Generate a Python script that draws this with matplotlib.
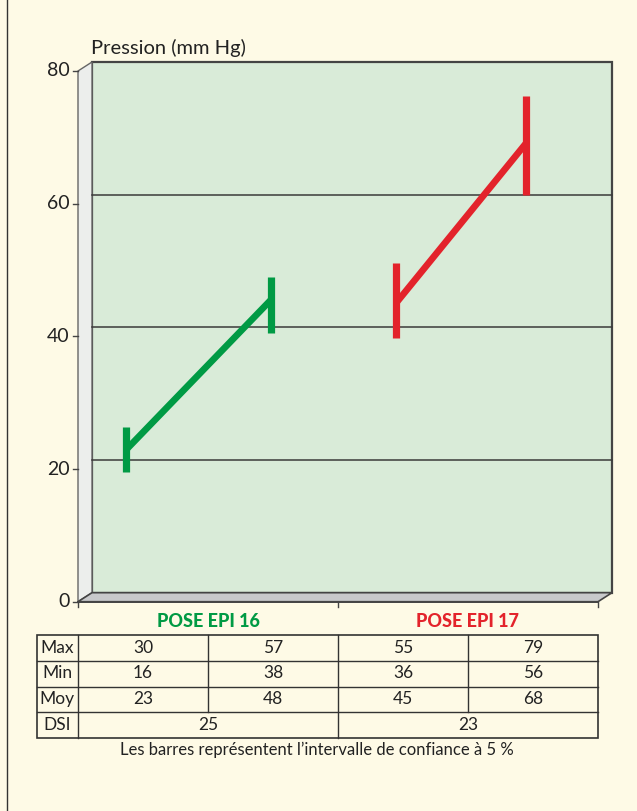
import matplotlib
matplotlib.use("Agg")
import matplotlib.pyplot as plt
from matplotlib.patches import Polygon, Rectangle
from matplotlib.lines import Line2D

plt.rcParams['font.family'] = ['Lato', 'DejaVu Sans']

# ---- data ----
categories = ["POSE EPI 16", "POSE EPI 17"]
green_mean = [22.9, 45.5]
green_low = [19.5, 40.5]
green_high = [26.3, 48.9]
red_mean = [45.0, 69.1]
red_low = [39.8, 61.3]
red_high = [51.1, 76.2]
y_ticks = [0, 20, 40, 60, 80]
row_labels = ["Max", "Min", "Moy", "DSI"]
max_vals = [30, 57, 55, 79]
min_vals = [16, 38, 36, 56]
moy_vals = [23, 48, 45, 68]
dsi_vals = [25, 23]

W, H = 637, 811
BG = "#FEFAE6"
WALL = "#D9EBD8"
SIDE = "#ECEEEC"
FLOOR = "#C8C9CB"
EDGE = "#444444"
GREEN = "#009A44"
RED = "#E3232B"
TXT = "#222222"

fig = plt.figure(figsize=(W / 100, H / 100), dpi=100)
fig.patch.set_facecolor(BG)

def fx(px):
    return px / W

def fy(py):
    return 1 - py / H

# page border on the left
fig.add_artist(Line2D([fx(7), fx(7)], [0, 1], color="#333333", lw=1.0))

# main (front-plane) axes
L, R, T, B = 78, 598, 71, 601.7
ax = fig.add_axes([fx(L), fy(B), fx(R - L), fy(T) - fy(B)])
ax.set_xlim(0, 2)
ax.set_ylim(0, 80)
ax.set_facecolor("none")
for s in ax.spines.values():
    s.set_visible(False)
ax.set_xticks([])
ax.set_yticks([])

# depth offset in data units
DXP, DYP = 14, 9
dx = DXP / (R - L) * 2
dy = DYP / (B - T) * 80

# back wall
ax.add_patch(Polygon([(dx, dy), (2 + dx, dy), (2 + dx, 80 + dy), (dx, 80 + dy)],
                     closed=True, facecolor=WALL, edgecolor=EDGE, lw=1.6,
                     clip_on=False, zorder=1))
for g in y_ticks[1:-1]:
    ax.add_line(Line2D([dx, 2 + dx], [g + dy, g + dy], color="#3a3a3a", lw=1.1,
                       clip_on=False, zorder=2))
# side wall
ax.add_patch(Polygon([(0, 0), (0, 80), (dx, 80 + dy), (dx, dy)], closed=True,
                     facecolor=SIDE, edgecolor="#666666", lw=1.0,
                     clip_on=False, zorder=1))
# floor
ax.add_patch(Polygon([(0, 0), (2, 0), (2 + dx, dy), (dx, dy)], closed=True,
                     facecolor=FLOOR, edgecolor=EDGE, lw=1.2,
                     clip_on=False, zorder=1))
ax.add_line(Line2D([0, 2], [0, 0], color=EDGE, lw=1.4, clip_on=False, zorder=3))

# y ticks and labels on the front-left edge
tick_len = 5 / (R - L) * 2
for t in y_ticks:
    ax.add_line(Line2D([-tick_len, 0], [t, t], color=EDGE, lw=1.0, clip_on=False))
    ax.text(-tick_len - 0.012, t, str(t), ha="right", va="center",
            fontsize=14, color=TXT)

# x ticks on the floor front edge
tick_h = 5 / (B - T) * 80
for xt in [0, 1, 2]:
    ax.add_line(Line2D([xt, xt], [0, -tick_h], color=EDGE, lw=1.0, clip_on=False))

# category labels
for i, (c, col) in enumerate(zip(categories, [GREEN, RED])):
    ax.text(i + 0.5, -3.0, c, ha="center", va="center", fontsize=13,
            fontweight="black", color=col)

# axis title
ax.text(0.05, 83.5, "Pression (mm Hg)", ha="left", va="center",
        fontsize=14.5, color=TXT)

# data lines with confidence interval bars
point_offsets = [[-0.315, 0.242], [-0.277, 0.223]]
for i, (mean, low, high, col) in enumerate([(green_mean, green_low, green_high, GREEN),
                                            (red_mean, red_low, red_high, RED)]):
    xs = [i + 0.5 + o for o in point_offsets[i]]
    ax.plot(xs, mean, color=col, lw=4.8, solid_capstyle="butt", zorder=5,
            clip_on=False)
    ax.vlines(xs, low, high, color=col, lw=5.2, zorder=6)

# table
tb = fig.add_axes([fx(36.7), fy(738), fx(598 - 36.7), fy(635) - fy(738)])
tb.set_xlim(36.7, 598)
tb.set_ylim(738, 635)
tb.axis("off")
col_edges = [36.7, 78, 208, 338, 468, 598]
row_edges = [635, 660.5, 686.5, 712.3, 738]
lc = "#333333"
tb.add_patch(Rectangle((36.7, 635), 598 - 36.7, 103, fill=False, ec=lc, lw=1.2,
                       clip_on=False))
for yv in row_edges[1:-1]:
    tb.add_line(Line2D([36.7, 598], [yv, yv], color=lc, lw=1.0, clip_on=False))
for xv in col_edges[1:-1]:
    bottom = 738 if xv in (78, 338) else row_edges[3]
    tb.add_line(Line2D([xv, xv], [635, bottom], color=lc, lw=1.0, clip_on=False))
rows = [max_vals, min_vals, moy_vals]
for r, (lab, vals) in enumerate(zip(row_labels[:3], rows)):
    yc = (row_edges[r] + row_edges[r + 1]) / 2
    tb.text(57.3, yc, lab, ha="center", va="center", fontsize=12.5, color=TXT)
    for c, v in enumerate(vals):
        xc = (col_edges[c + 1] + col_edges[c + 2]) / 2
        tb.text(xc, yc, str(v), ha="center", va="center", fontsize=12.5, color=TXT)
yc = (row_edges[3] + row_edges[4]) / 2
tb.text(57.3, yc, row_labels[3], ha="center", va="center", fontsize=12.5, color=TXT)
for c, v in enumerate(dsi_vals):
    xc = (col_edges[1 + 2 * c] + col_edges[3 + 2 * c]) / 2
    tb.text(xc, yc, str(v), ha="center", va="center", fontsize=12.5, color=TXT)

fig.text(fx(317), fy(750), "Les barres représentent l’intervalle de confiance à 5 %",
         ha="center", va="center", fontsize=12, color=TXT)

fig.savefig("out.png", dpi=100, facecolor=BG)
